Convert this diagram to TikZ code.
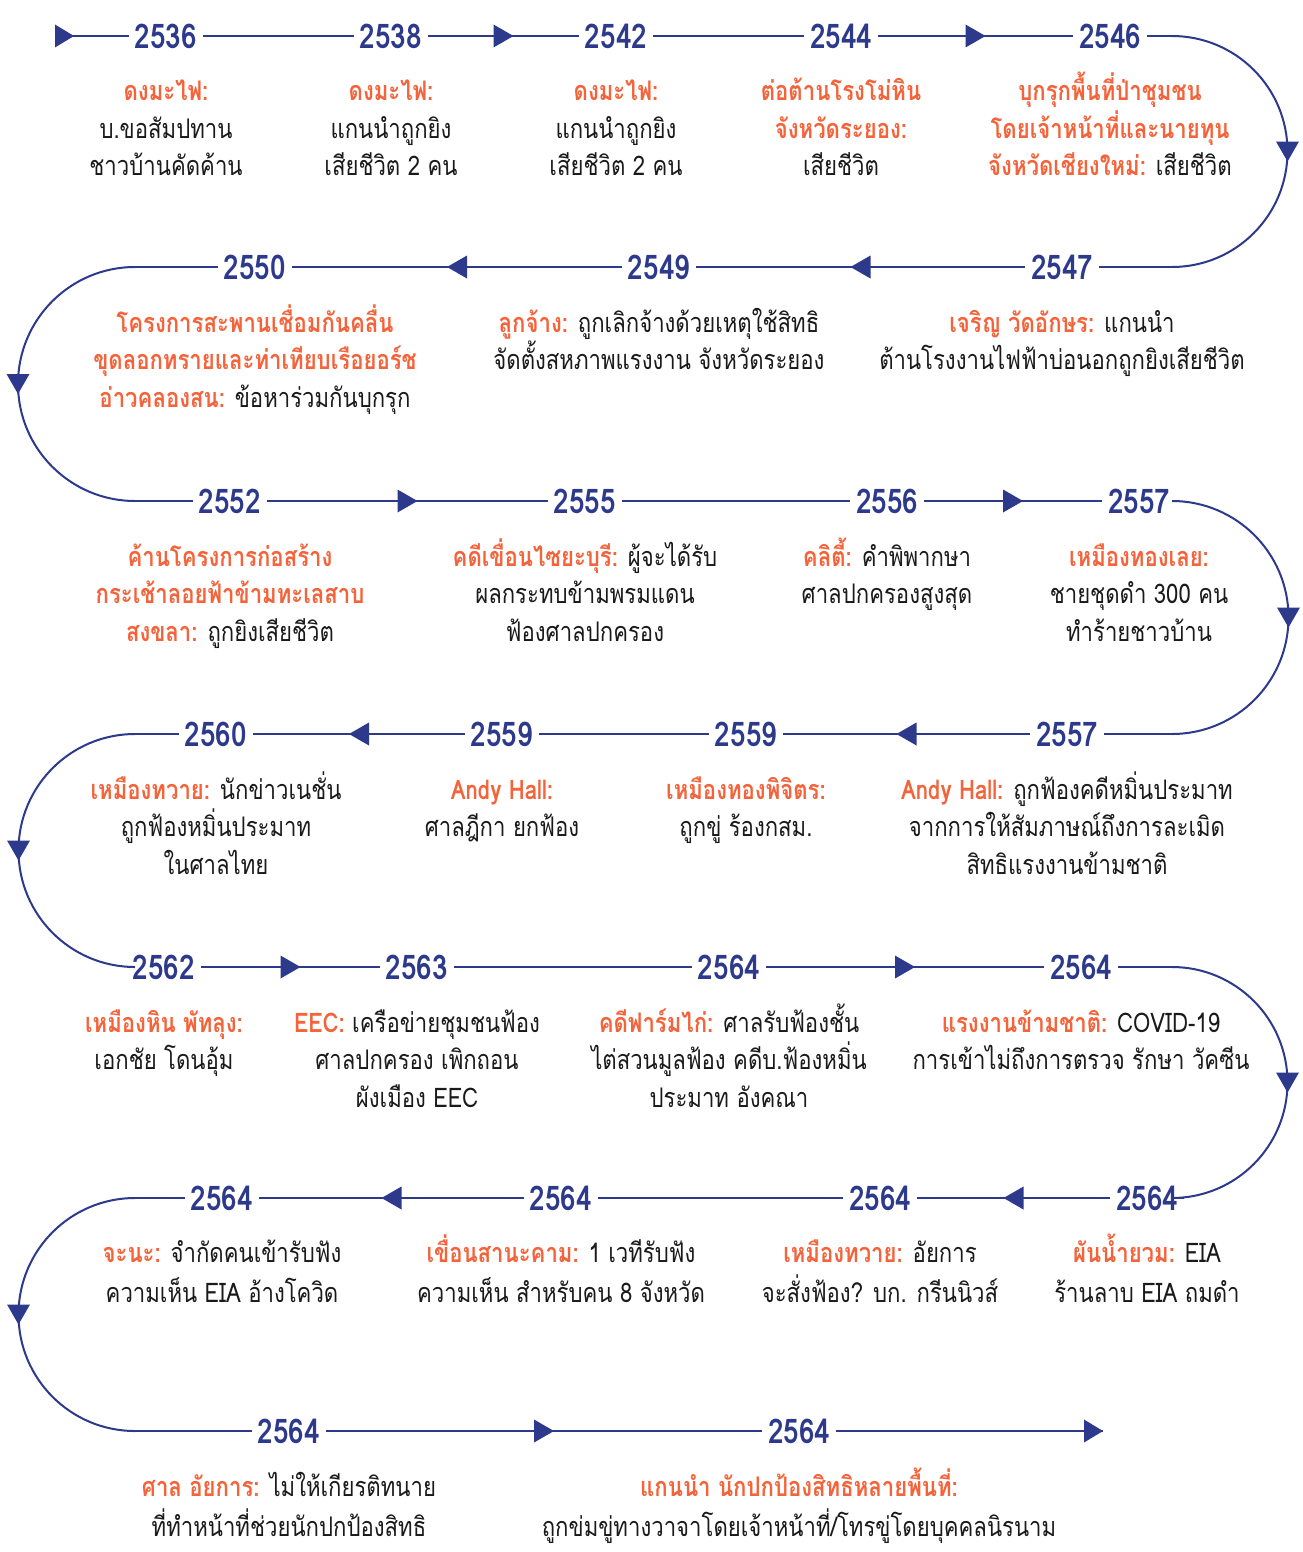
\documentclass[tikz,border=0pt]{standalone}
\usepackage{fontspec}
\setmainfont[Script=Thai, FakeStretch=0.82]{Loma}
\usetikzlibrary{decorations.markings}
\definecolor{navy}{HTML}{2D3A8C}
\definecolor{orng}{HTML}{F4633A}
\definecolor{ink}{HTML}{1A1A1A}
\newcommand{\hl}[1]{\textcolor{orng}{\bfseries #1}}
% centred lines with a fixed baseline-to-baseline distance; the box baseline is that of the first line
\newcommand{\tlines}[1]{\vtop{\let\\\cr\lineskiplimit=-100pt\lineskip=0pt\halign{\hfil##\hfil\cr#1\crcr}}}
\tikzset{
  tl/.style={draw=navy, line width=2pt},
  yr/.style={font=\fontsize{34}{34}\selectfont\bfseries, text=navy, inner xsep=6pt, inner ysep=2pt},
  desc/.style={font=\fontsize{27}{37.5}\selectfont, text=ink, anchor=base, inner sep=0pt},
  descw/.style={desc, font=\fontsize{27}{40}\selectfont},
  midtri/.style={postaction={decorate, decoration={markings,
    mark=at position 0.5 with {\fill[navy] (-10pt,-11.5pt) -- (10pt,0pt) -- (-10pt,11.5pt) -- cycle;}}}},
  starttri/.style={postaction={decorate, decoration={markings,
    mark=at position 0 with {\fill[navy] (0pt,-11.5pt) -- (19pt,0pt) -- (0pt,11.5pt) -- cycle;}}}},
  endtri/.style={postaction={decorate, decoration={markings,
    mark=at position 1 with {\fill[navy] (-19pt,-11.5pt) -- (0pt,0pt) -- (-19pt,11.5pt) -- cycle;}}}},
}
\begin{document}
\begin{tikzpicture}[x=1pt, y=-1pt]
\useasboundingbox (0,0) rectangle (1303,1552);
\fill[white] (0,0) rectangle (1303,1552);

% ---------- year nodes ----------
\node[yr] (a1) at (166,36) {2536};
\node[yr] (a2) at (391,36) {2538};
\node[yr] (a3) at (616,36) {2542};
\node[yr] (a4) at (841,36) {2544};
\node[yr] (a5) at (1110,36) {2546};

\node[yr] (b1) at (255,267) {2550};
\node[yr] (b2) at (659,267) {2549};
\node[yr] (b3) at (1062,267) {2547};

\node[yr] (c1) at (230,501) {2552};
\node[yr] (c2) at (585,501) {2555};
\node[yr] (c3) at (887,501) {2556};
\node[yr] (c4) at (1139,501) {2557};

\node[yr] (d1) at (216,734) {2560};
\node[yr] (d2) at (502,734) {2559};
\node[yr] (d3) at (746,734) {2559};
\node[yr] (d4) at (1067,734) {2557};

\node[yr] (e1) at (164,967) {2562};
\node[yr] (e2) at (417,967) {2563};
\node[yr] (e3) at (729,967) {2564};
\node[yr] (e4) at (1081,967) {2564};

\node[yr] (f1) at (222,1198) {2564};
\node[yr] (f2) at (561,1198) {2564};
\node[yr] (f3) at (880,1198) {2564};
\node[yr] (f4) at (1147,1198) {2564};

\node[yr] (g1) at (289,1431) {2564};
\node[yr] (g2) at (799,1431) {2564};

% ---------- turning points ----------
\coordinate (s0) at (55,36);
\coordinate (r1) at (1172,36);   \coordinate (r1b) at (1172,267);
\coordinate (l2) at (135,267);   \coordinate (l2b) at (135,501);
\coordinate (r3) at (1172,501);  \coordinate (r3b) at (1172,734);
\coordinate (l4) at (135,734);   \coordinate (l4b) at (135,967);
\coordinate (r5) at (1172,967);  \coordinate (r5b) at (1172,1198);
\coordinate (l6) at (135,1198);  \coordinate (l6b) at (135,1431);
\coordinate (e0) at (1103,1431);

% ---------- timeline ----------
\draw[tl, starttri] (s0) -- (a1);
\draw[tl] (a1) -- (a2);
\draw[tl, midtri] (a2) -- (a3);
\draw[tl] (a3) -- (a4);
\draw[tl, midtri] (a4) -- (a5);
\draw[tl] (a5) -- (r1);
\draw[tl, midtri] (r1) arc[start angle=90, end angle=-90, radius=115.5pt];
\draw[tl] (r1b) -- (b3);

\draw[tl, midtri] (b3) -- (b2);
\draw[tl, midtri] (b2) -- (b1);
\draw[tl] (b1) -- (l2);
\draw[tl, midtri] (l2) arc[start angle=90, end angle=270, radius=117pt];
\draw[tl] (l2b) -- (c1);

\draw[tl, midtri] (c1) -- (c2);
\draw[tl] (c2) -- (c3);
\draw[tl, midtri] (c3) -- (c4);
\draw[tl] (c4) -- (r3);
\draw[tl, midtri] (r3) arc[start angle=90, end angle=-90, radius=116.5pt];
\draw[tl] (r3b) -- (d4);

\draw[tl, midtri] (d4) -- (d3);
\draw[tl] (d3) -- (d2);
\draw[tl, midtri] (d2) -- (d1);
\draw[tl] (d1) -- (l4);
\draw[tl, midtri] (l4) arc[start angle=90, end angle=270, radius=116.5pt];
\draw[tl] (l4b) -- (e1);

\draw[tl, midtri] (e1) -- (e2);
\draw[tl] (e2) -- (e3);
\draw[tl, midtri] (e3) -- (e4);
\draw[tl] (e4) -- (r5);
\draw[tl, midtri] (r5) arc[start angle=90, end angle=-90, radius=115.5pt];
\draw[tl] (r5b) -- (f4);

\draw[tl, midtri] (f4) -- (f3);
\draw[tl] (f3) -- (f2);
\draw[tl, midtri] (f2) -- (f1);
\draw[tl] (f1) -- (l6);
\draw[tl, midtri] (l6) arc[start angle=90, end angle=270, radius=116.5pt];
\draw[tl] (l6b) -- (g1);

\draw[tl, midtri] (g1) -- (g2);
\draw[tl, endtri] (g2) -- (e0);

% ---------- descriptions (positioned by the baseline of their first line) ----------
\node[desc] (ta1) at (166,101) {\tlines{\hl{ดงมะไฟ:}\\บ.ขอสัมปทาน\\ชาวบ้านคัดค้าน}};
\node[desc] (ta2) at (391,101) {\tlines{\hl{ดงมะไฟ:}\\แกนนำถูกยิง\\เสียชีวิต 2 คน}};
\node[desc] (ta3) at (616,101) {\tlines{\hl{ดงมะไฟ:}\\แกนนำถูกยิง\\เสียชีวิต 2 คน}};
\node[desc] (ta4) at (841,101) {\tlines{\hl{ต่อต้านโรงโม่หิน}\\\hl{จังหวัดระยอง:}\\เสียชีวิต}};
\node[desc] (ta5) at (1110,101) {\tlines{\hl{บุกรุกพื้นที่ป่าชุมชน}\\\hl{โดยเจ้าหน้าที่และนายทุน}\\\hl{จังหวัดเชียงใหม่:} เสียชีวิต}};

\node[desc] (tb1) at (255,332) {\tlines{\hl{โครงการสะพานเชื่อมกันคลื่น}\\\hl{ขุดลอกทรายและท่าเทียบเรือยอร์ช}\\\hl{อ่าวคลองสน:} ข้อหาร่วมกันบุกรุก}};
\node[desc] (tb2) at (659,332) {\tlines{\hl{ลูกจ้าง:} ถูกเลิกจ้างด้วยเหตุใช้สิทธิ\\จัดตั้งสหภาพแรงงาน จังหวัดระยอง}};
\node[desc] (tb3) at (1062,332) {\tlines{\hl{เจริญ วัดอักษร:} แกนนำ\\ต้านโรงงานไฟฟ้าบ่อนอกถูกยิงเสียชีวิต}};

\node[desc] (tc1) at (230,566) {\tlines{\hl{ค้านโครงการก่อสร้าง}\\\hl{กระเช้าลอยฟ้าข้ามทะเลสาบ}\\\hl{สงขลา:} ถูกยิงเสียชีวิต}};
\node[desc] (tc2) at (585,566) {\tlines{\hl{คดีเขื่อนไซยะบุรี:} ผู้จะได้รับ\\ผลกระทบข้ามพรมแดน\\ฟ้องศาลปกครอง}};
\node[desc] (tc3) at (887,566) {\tlines{\hl{คลิตี้:} คำพิพากษา\\ศาลปกครองสูงสุด}};
\node[desc] (tc4) at (1139,566) {\tlines{\hl{เหมืองทองเลย:}\\ชายชุดดำ 300 คน\\ทำร้ายชาวบ้าน}};

\node[desc] (td1) at (216,799) {\tlines{\hl{เหมืองทวาย:} นักข่าวเนชั่น\\ถูกฟ้องหมิ่นประมาท\\ในศาลไทย}};
\node[desc] (td2) at (502,799) {\tlines{\hl{Andy Hall:}\\ศาลฎีกา ยกฟ้อง}};
\node[desc] (td3) at (746,799) {\tlines{\hl{เหมืองทองพิจิตร:}\\ถูกขู่ ร้องกสม.}};
\node[desc] (td4) at (1067,799) {\tlines{\hl{Andy Hall:} ถูกฟ้องคดีหมิ่นประมาท\\จากการให้สัมภาษณ์ถึงการละเมิด\\สิทธิแรงงานข้ามชาติ}};

\node[desc] (te1) at (164,1032) {\tlines{\hl{เหมืองหิน พัทลุง:}\\เอกชัย โดนอุ้ม}};
\node[desc] (te2) at (417,1032) {\tlines{\hl{EEC:} เครือข่ายชุมชนฟ้อง\\ศาลปกครอง เพิกถอน\\ผังเมือง EEC}};
\node[desc] (te3) at (729,1032) {\tlines{\hl{คดีฟาร์มไก่:} ศาลรับฟ้องชั้น\\ไต่สวนมูลฟ้อง คดีบ.ฟ้องหมิ่น\\ประมาท อังคณา}};
\node[desc] (te4) at (1081,1032) {\tlines{\hl{แรงงานข้ามชาติ:} COVID-19\\การเข้าไม่ถึงการตรวจ รักษา วัคซีน}};

\node[descw] (tf1) at (222,1262) {\tlines{\hl{จะนะ:} จำกัดคนเข้ารับฟัง\\ความเห็น EIA อ้างโควิด}};
\node[descw] (tf2) at (561,1262) {\tlines{\hl{เขื่อนสานะคาม:} 1 เวทีรับฟัง\\ความเห็น สำหรับคน 8 จังหวัด}};
\node[descw] (tf3) at (880,1262) {\tlines{\hl{เหมืองทวาย:} อัยการ\\จะสั่งฟ้อง? บก. กรีนนิวส์}};
\node[descw] (tf4) at (1147,1262) {\tlines{\hl{ผันน้ำยวม:} EIA\\ร้านลาบ EIA ถมดำ}};

\node[descw] (tg1) at (289,1496) {\tlines{\hl{ศาล อัยการ:} ไม่ให้เกียรติทนาย\\ที่ทำหน้าที่ช่วยนักปกป้องสิทธิ}};
\node[descw] (tg2) at (799,1496) {\tlines{\hl{แกนนำ นักปกป้องสิทธิหลายพื้นที่:}\\ถูกข่มขู่ทางวาจาโดยเจ้าหน้าที่/โทรขู่โดยบุคคลนิรนาม}};
\end{tikzpicture}
\end{document}
